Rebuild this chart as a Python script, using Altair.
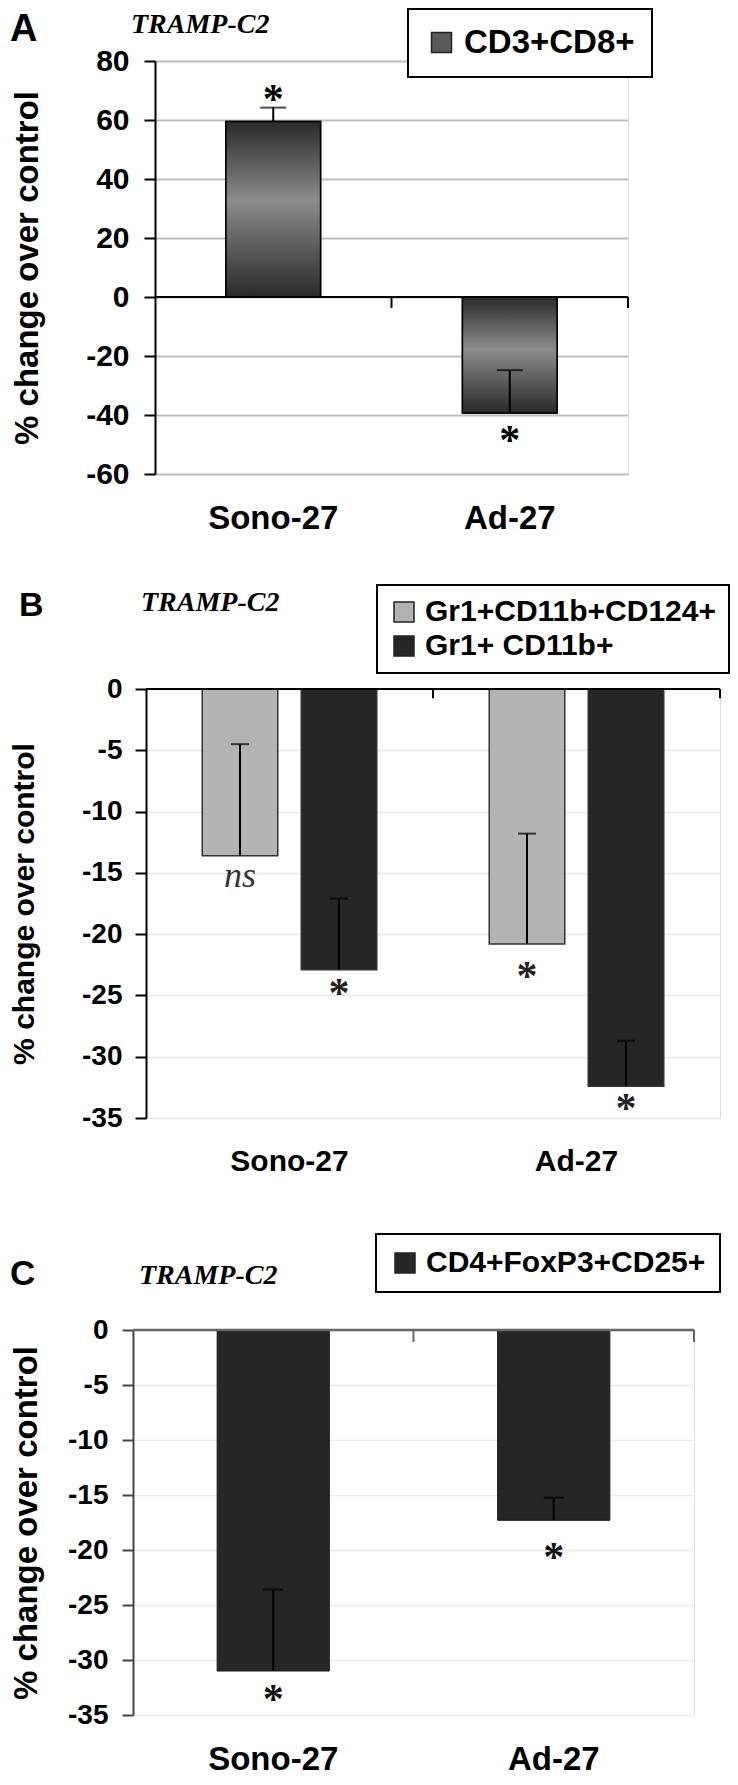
import altair as alt
import pandas as pd

FONT = "Liberation Sans"
SERIF = "Liberation Serif"
CATS = ["Sono-27", "Ad-27"]

# ---------------- Panel A data ----------------
a_groups = ["Sono-27", "Ad-27"]
a_values = [59.5, -39.3]
a_err_end = [64.2, -24.8]
a_star_y = [69.0, -46.5]
a_stars = ["*", "*"]
a_series = ["CD3+CD8+", "CD3+CD8+"]
a_ticks = [-60, -40, -20, 0, 20, 40, 60, 80]

# ---------------- Panel B data ----------------
b_groups = ["Sono-27", "Sono-27", "Ad-27", "Ad-27"]
b_series = ["Gr1+CD11b+CD124+", "Gr1+ CD11b+", "Gr1+CD11b+CD124+", "Gr1+ CD11b+"]
b_values = [-13.6, -22.9, -20.8, -32.4]
b_err_end = [-4.5, -17.1, -11.8, -28.7]
b_marks = ["ns", "*", "*", "*"]
b_mark_y = [-15.5, -24.3, -22.9, -33.7]
b_ticks = [-35, -30, -25, -20, -15, -10, -5, 0]
B_SERIES = ["Gr1+CD11b+CD124+", "Gr1+ CD11b+"]

# ---------------- Panel C data ----------------
c_groups = ["Sono-27", "Ad-27"]
c_values = [-31.0, -17.3]
c_err_end = [-23.6, -15.25]
c_star_y = [-33.0, -20.1]
c_stars = ["*", "*"]
c_series = ["CD4+FoxP3+CD25+", "CD4+FoxP3+CD25+"]
c_ticks = [-35, -30, -25, -20, -15, -10, -5, 0]

one = pd.DataFrame({"k": [0]})
groups_df = pd.DataFrame({"group": CATS})
HYPHEN = "'' + datum.value"


def x_enc(axis, **kw):
    return alt.X("group:N", sort=CATS, scale=alt.Scale(paddingInner=0, paddingOuter=0),
                 axis=axis, title=None, **kw)


def label_text(txt, x, y, size, font=FONT, weight="bold", style="normal"):
    return alt.Chart(one).mark_text(text=txt, align="left", baseline="top", font=font,
                                    fontSize=size, fontWeight=weight, fontStyle=style,
                                    color="black").encode(x=alt.value(x), y=alt.value(y))


def spacer():
    return alt.Chart(one).mark_point(size=0, opacity=0, strokeWidth=0).properties(width=1, height=1)


def legend(x, y, pad, fs, **kw):
    return alt.Legend(orient="none", legendX=x, legendY=y, title=None,
                      strokeColor="black", fillColor="white", padding=pad, labelLimit=500,
                      labelFont=FONT, labelFontWeight="bold", labelFontSize=fs,
                      labelColor="black", symbolType="square", symbolSize=400,
                      symbolStrokeColor="#222", symbolStrokeWidth=1.5,
                      symbolOpacity=1, labelOffset=6, **kw)


# ======================= Panel A =======================
dfA = pd.DataFrame({"group": a_groups, "value": a_values, "err": a_err_end,
                    "star_y": a_star_y, "star": a_stars, "seriesA": a_series})
axA_x = alt.Axis(orient="bottom", domain=False, ticks=False, grid=False, labelAngle=0,
                 labelFont=FONT, labelFontWeight="bold", labelFontSize=33, labelColor="black",
                 labelPadding=28, title="x", titleOpacity=0, titleFontSize=10, titlePadding=5)
axA_y = alt.Axis(values=a_ticks, labelExpr=HYPHEN, grid=True, gridColor="#bdbdbd", gridWidth=2,
                 domainColor="black", domainWidth=2, tickColor="black", tickWidth=2, tickSize=11,
                 labelFont=FONT, labelFontWeight="bold", labelFontSize=30, labelColor="black",
                 labelPadding=15, labelOverlap=False,
                 title="% change over control", titleFont=FONT, titleFontWeight="bold",
                 titleFontSize=33, titleColor="black", titlePadding=41)
scA = alt.Scale(domain=[-60, 80], nice=False, zero=False)


def yA(field):
    return alt.Y(field, type="quantitative", scale=scA, axis=axA_y, title="% change over control")


grad = alt.Gradient(gradient="linear", x1=0, x2=0, y1=0, y2=1,
                    stops=[alt.GradientStop(color="#2a2a2a", offset=0),
                           alt.GradientStop(color="#8c8c8c", offset=0.45),
                           alt.GradientStop(color="#2a2a2a", offset=1)])

baseA = alt.Chart(dfA)
A_legend_bars = baseA.mark_bar(width=alt.RelativeBandSize(0.4), stroke="black", strokeWidth=1.5).encode(
    x=x_enc(axA_x), y=yA("value"),
    color=alt.Color("seriesA:N", scale=alt.Scale(domain=["CD3+CD8+"], range=["#5a5a5a"]),
                    legend=legend(400, -52, 17, 33)))
A_grad_bars = baseA.mark_bar(width=alt.RelativeBandSize(0.4), color=grad, stroke="black",
                             strokeWidth=1.5).encode(x=x_enc(axA_x), y=yA("value"))
A_zero = alt.Chart(one).mark_rule(color="black", strokeWidth=2).encode(y=alt.datum(0))
A_bticks = alt.Chart(groups_df).mark_rule(color="black", strokeWidth=2).encode(
    x=x_enc(axA_x, bandPosition=1), y=alt.datum(0), y2=alt.datum(-3.7))
A_err = baseA.mark_rule(color="black", strokeWidth=2).encode(x=x_enc(axA_x), y=yA("value"), y2="err")
A_cap = baseA.mark_tick(orient="horizontal", color="black", size=26, thickness=2).encode(
    x=x_enc(axA_x), y=yA("err"))
A_star = baseA.mark_text(font=SERIF, fontWeight="bold", fontSize=42, baseline="middle", dy=7,
                         color="black").encode(x=x_enc(axA_x), y=yA("star_y"), text="star:N")

panelA = alt.layer(
    A_legend_bars, A_grad_bars, A_zero, A_bticks, A_err, A_cap, A_star,
    label_text("A", -145, -50, 38),
    label_text("TRAMP-C2", -24, -50, 28, font=SERIF, weight="bold", style="italic"),
).properties(width=473, height=413)

# ======================= Panel B =======================
dfB = pd.DataFrame({"group": b_groups, "seriesB": b_series, "value": b_values, "err": b_err_end,
                    "mark": b_marks, "mark_y": b_mark_y})
axB_x = alt.Axis(orient="bottom", domain=False, ticks=False, grid=False, labelAngle=0,
                 labelFont=FONT, labelFontWeight="bold", labelFontSize=30, labelColor="black",
                 labelPadding=28, title="x", titleOpacity=0, titleFontSize=18, titlePadding=5)
axB_y = alt.Axis(values=b_ticks, labelExpr=HYPHEN, grid=True, gridColor="#e8e8e8", gridWidth=1.5,
                 domainColor="black", domainWidth=2, tickColor="black", tickWidth=2, tickSize=11,
                 labelFont=FONT, labelFontWeight="bold", labelFontSize=28, labelColor="black",
                 labelPadding=13, labelOverlap=False,
                 title="% change over control", titleFont=FONT, titleFontWeight="bold",
                 titleFontSize=30, titleColor="black", titlePadding=42)
scB = alt.Scale(domain=[-35, 0], nice=False, zero=False)


def yB(field):
    return alt.Y(field, type="quantitative", scale=scB, axis=axB_y, title="% change over control")


xoffB = alt.XOffset("seriesB:N", sort=B_SERIES, scale=alt.Scale(paddingInner=0.237, paddingOuter=0.568))
baseB = alt.Chart(dfB)
B_bars = baseB.mark_bar(stroke="#333", strokeWidth=1.5).encode(
    x=x_enc(axB_x), xOffset=xoffB, y=yB("value"),
    color=alt.Color("seriesB:N", sort=B_SERIES,
                    scale=alt.Scale(domain=B_SERIES, range=["#b3b3b3", "#262626"]),
                    legend=legend(369, -104, 12, 30, rowPadding=4)))
B_zero = alt.Chart(one).mark_rule(color="black", strokeWidth=2).encode(y=alt.datum(0))
B_bticks = alt.Chart(groups_df).mark_rule(color="black", strokeWidth=2).encode(
    x=x_enc(axB_x, bandPosition=1), y=alt.datum(0), y2=alt.datum(-0.75))
B_err = baseB.mark_rule(color="black", strokeWidth=2).encode(
    x=x_enc(axB_x), xOffset=xoffB, y=yB("value"), y2="err")
B_cap = baseB.mark_tick(orient="horizontal", color="black", size=18, thickness=2).encode(
    x=x_enc(axB_x), xOffset=xoffB, y=yB("err"))
B_star = baseB.transform_filter("datum.mark == '*'").mark_text(
    font=SERIF, fontWeight="bold", fontSize=42, baseline="middle", dy=7, color="#222").encode(
    x=x_enc(axB_x), xOffset=xoffB, y=yB("mark_y"), text="mark:N")
B_ns = baseB.transform_filter("datum.mark == 'ns'").mark_text(
    font=SERIF, fontStyle="italic", fontSize=36, baseline="middle", dy=-3, color="#333").encode(
    x=x_enc(axB_x), xOffset=xoffB, y=yB("mark_y"), text="mark:N")

panelB = alt.layer(
    B_bars, B_zero, B_bticks, B_err, B_cap, B_star, B_ns,
    label_text("B", -127, -100, 34),
    label_text("TRAMP-C2", -5, -100, 28, font=SERIF, weight="bold", style="italic"),
).properties(width=574, height=429)

# ======================= Panel C =======================
dfC = pd.DataFrame({"group": c_groups, "value": c_values, "err": c_err_end,
                    "star_y": c_star_y, "star": c_stars, "seriesC": c_series})
axC_x = alt.Axis(orient="bottom", domain=False, ticks=False, grid=False, labelAngle=0,
                 labelFont=FONT, labelFontWeight="bold", labelFontSize=33, labelColor="black",
                 labelPadding=28)
axC_y = alt.Axis(values=c_ticks, labelExpr=HYPHEN, grid=True, gridColor="#ececec", gridWidth=1.5,
                 domainColor="#444", domainWidth=2, tickColor="#444", tickWidth=2, tickSize=11,
                 labelFont=FONT, labelFontWeight="bold", labelFontSize=28, labelColor="black",
                 labelPadding=14, labelOverlap=False,
                 title="% change over control", titleFont=FONT, titleFontWeight="bold",
                 titleFontSize=33, titleColor="black", titlePadding=24)
scC = alt.Scale(domain=[-35, 0], nice=False, zero=False)


def yC(field):
    return alt.Y(field, type="quantitative", scale=scC, axis=axC_y, title="% change over control")


baseC = alt.Chart(dfC)
C_bars = baseC.mark_bar(width=alt.RelativeBandSize(0.4), stroke="#1a1a1a", strokeWidth=1).encode(
    x=x_enc(axC_x), y=yC("value"),
    color=alt.Color("seriesC:N", scale=alt.Scale(domain=["CD4+FoxP3+CD25+"], range=["#262626"]),
                    legend=legend(368, -96, 14, 30)))
C_zero = alt.Chart(one).mark_rule(color="#666", strokeWidth=2.5).encode(y=alt.datum(0))
C_bticks = alt.Chart(groups_df).mark_rule(color="#666", strokeWidth=2).encode(
    x=x_enc(axC_x, bandPosition=1), y=alt.datum(0), y2=alt.datum(-1.1))
C_err = baseC.mark_rule(color="black", strokeWidth=2).encode(x=x_enc(axC_x), y=yC("value"), y2="err")
C_cap = baseC.mark_tick(orient="horizontal", color="black", size=20, thickness=2).encode(
    x=x_enc(axC_x), y=yC("err"))
C_star = baseC.mark_text(font=SERIF, fontWeight="bold", fontSize=42, baseline="middle", dy=7,
                         color="#111").encode(x=x_enc(axC_x), y=yC("star_y"), text="star:N")

panelC = alt.layer(
    C_bars, C_zero, C_bticks, C_err, C_cap, C_star,
    label_text("C", -123, -73, 35),
    label_text("TRAMP-C2", 6, -68, 28, font=SERIF, weight="bold", style="italic"),
).properties(width=561, height=385)

rowA = alt.hconcat(spacer(), panelA, spacing=0)
rowB = alt.hconcat(spacer(), panelB, spacing=0)
rowC = alt.hconcat(spacer(), panelC, spacing=0)

chart = alt.vconcat(rowA, rowB, rowC, spacing=33).resolve_scale(
    color="independent").resolve_legend(color="independent").properties(padding=0).configure_view(
    stroke=None).configure(background="white").configure_legend(strokeWidth=2)

chart.save("out.html", embed_options={"renderer": "svg", "actions": False})
